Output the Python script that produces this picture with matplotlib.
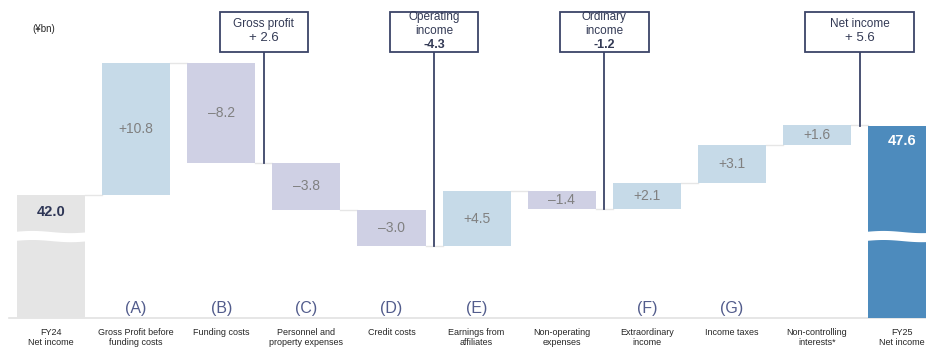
import numpy as np
import matplotlib.pyplot as plt
from matplotlib.patches import Rectangle

plt.rcParams['font.family'] = ['Liberation Sans', 'DejaVu Sans']

# bridge from FY24 to FY25 net income (¥bn)
categories = ["FY24\nNet income", "Gross Profit before\nfunding costs", "Funding costs",
              "Personnel and\nproperty expenses", "Credit costs", "Earnings from\naffiliates",
              "Non-operating\nexpenses", "Extraordinary\nincome", "Income taxes",
              "Non-controlling\ninterests*", "FY25\nNet income"]
letters = ["", "(A)", "(B)", "(C)", "(D)", "(E)", "", "(F)", "(G)", "", ""]
start_value = 42.0
end_value = 47.6
deltas = [10.8, -8.2, -3.8, -3.0, 4.5, -1.4, 2.1, 3.1, 1.6]

# subtotal callouts: text, value, bar index the leader line sits after
callout_titles = ["Gross profit", "Operating\nincome", "Ordinary\nincome", "Net income"]
callout_values = ["+ 2.6", "-4.3", "-1.2", "+ 5.6"]
callout_after = [2, 4, 6, 9]

floor = 32.0
bar_w = 0.8
c_pos = "#c6dae8"
c_neg = "#cfd0e4"
c_start = "#e5e5e5"
c_end = "#4d8bbd"
c_line = "#3c4468"
c_conn = "#e6e6e6"
c_text = "#333a55"

fig = plt.figure(figsize=(9.26, 3.5), dpi=100)
ax = fig.add_axes([0, 0, 1, 1])
ymin, ymax = 29.35, 57.92
ax.set_xlim(-0.6, 10.28)
ax.set_ylim(ymin, ymax)
ax.axis("off")
px = (ymax - ymin) / 350  # value units per pixel row

# running totals
levels = [start_value]
for d in deltas:
    levels.append(levels[-1] + d)

n = len(categories)
last = n - 1

# start / end bars
ax.bar(0, start_value - floor, bottom=floor, width=bar_w, color=c_start)
ax.bar(last, end_value - floor, bottom=floor, width=bar_w, color=c_end)

# step bars
for i, d in enumerate(deltas, start=1):
    lo = min(levels[i - 1], levels[i])
    ax.bar(i, abs(d), bottom=lo, width=bar_w, color=c_pos if d > 0 else c_neg)
    sign = "+" if d > 0 else "\u2013"
    ax.text(i, lo + abs(d) / 2, f"{sign}{abs(d):.1f}", ha="center", va="center",
            fontsize=10, color="#808080")

# connectors between bars
for i in range(n - 1):
    y = levels[i]
    ax.plot([i + bar_w / 2, i + 1 - bar_w / 2], [y, y], color=c_conn, lw=1, zorder=0)

# axis break on the two totals
xs = np.linspace(-0.45, 0.45, 60)
wave = 0.09 * np.sin((xs + 0.45) / 0.9 * 2 * np.pi)
for i in (0, last):
    ax.fill_between(xs + i, 38.28 + wave, 39.02 + wave, color="white", lw=0, zorder=3)

ax.text(0, start_value - 17 * px, f"{start_value:.1f}", ha="center", va="center",
        fontsize=10.5, fontweight="bold", color="#2e3656", zorder=4)
ax.text(last, end_value - 15 * px, f"{end_value:.1f}", ha="center", va="center",
        fontsize=10.5, fontweight="bold", color="white", zorder=4)

# baseline
ax.plot([-0.5, 10.4], [floor, floor], color="#e2e2e2", lw=1.2, zorder=0)

# letters and category names
for i, (lab, cat) in enumerate(zip(letters, categories)):
    if lab:
        ax.text(i, floor + 9 * px, lab, ha="center", va="center", fontsize=11.5,
                color="#525c8c")
    ax.text(i, floor - 10 * px, cat, ha="center", va="top", fontsize=6.5,
            color="#262626", linespacing=1.2)

# subtotal callouts
box_bottom = ymax - 52 * px
box_h = 40 * px
for title, val, k in zip(callout_titles, callout_values, callout_after):
    x = k + 0.5
    w = 1.28 if title == "Net income" else 1.04
    ax.add_patch(Rectangle((x - w / 2, box_bottom), w, box_h, facecolor="white",
                           edgecolor=c_line, lw=1.3, zorder=5))
    level = end_value if k == 9 else levels[k]
    ax.plot([x, x], [level, box_bottom], color=c_line, lw=1.3, zorder=4)
    rows = title.split("\n")
    if len(rows) == 1:
        ax.text(x, ymax - 24 * px, title, ha="center", va="center", fontsize=8.5,
                color=c_text, zorder=6)
        ax.text(x, ymax - 38 * px, val, ha="center", va="center", fontsize=9.5,
                color=c_text, zorder=6)
    else:
        ax.text(x, ymax - 17 * px, rows[0], ha="center", va="center", fontsize=8.5,
                color=c_text, zorder=6)
        ax.text(x, ymax - 31 * px, rows[1], ha="center", va="center", fontsize=8.5,
                color=c_text, zorder=6)
        ax.text(x, ymax - 45 * px, val, ha="center", va="center", fontsize=9,
                fontweight="bold", color=c_text, zorder=6)

ax.text(-0.225, ymax - 29 * px, "(\u00a5bn)", ha="left", va="center", fontsize=7,
        color="#262626")

fig.savefig("out.png", dpi=100)
